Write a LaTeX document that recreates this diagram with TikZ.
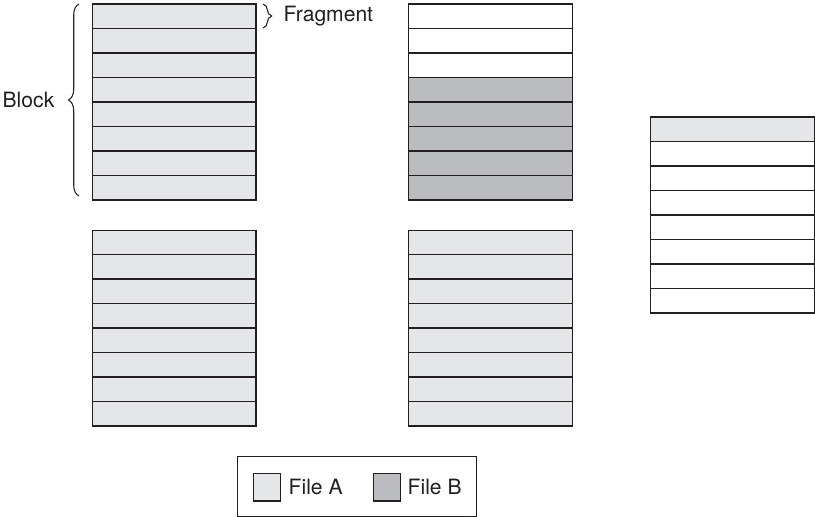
\documentclass[tikz,border=0pt]{standalone}
\usepackage{fontspec}
\setmainfont{TeX Gyre Heros}
\usetikzlibrary{decorations.pathreplacing}
\definecolor{fileA}{HTML}{E5E6E8}
\definecolor{fileB}{HTML}{BBBCBF}
\definecolor{ink}{HTML}{231F20}

\begin{document}
\begin{tikzpicture}[x=0.02cm,y=-0.02cm,line width=0.8pt,
    frag/.style={draw=ink,inner sep=0pt,anchor=north west,
      minimum width=3.28cm,minimum height=0.489cm},
    swatch/.style={draw=ink,line width=0.6pt,inner sep=0pt,minimum size=0.55cm,anchor=north west},
    lbl/.style={font=\fontsize{12}{14}\selectfont,text=ink,inner sep=0pt}]
  \useasboundingbox (0,0) rectangle (815,517);
  % blocks: x / y / name / row colours
  \foreach \bx/\by/\nm/\cols in {
      91.5/3.5/tl/{fileA,fileA,fileA,fileA,fileA,fileA,fileA,fileA},
      408/3.5/tm/{white,white,white,fileB,fileB,fileB,fileB,fileB},
      91.5/229.5/bl/{fileA,fileA,fileA,fileA,fileA,fileA,fileA,fileA},
      408/229.5/bm/{fileA,fileA,fileA,fileA,fileA,fileA,fileA,fileA},
      650/116.5/rt/{fileA,white,white,white,white,white,white,white}}
  {
    \foreach \c [count=\i from 0] in \cols
      \node[frag,fill=\c] (\nm-\i) at (\bx,\by+24.45*\i) {};
  }
  % block brace
  \coordinate (blockbot) at (79,196);
  \coordinate (blocktop) at (79,4);
  \draw[ink,line width=0.6pt,decorate,decoration={brace,amplitude=6pt}]
    (blockbot) -- (blocktop);
  \node[lbl,anchor=east] (blocklbl) at (55,100) {Block};
  % fragment brace
  \coordinate (fragtop) at (263,4);
  \coordinate (fragbot) at (263,28);
  \draw[ink,line width=0.6pt,decorate,decoration={brace,amplitude=5pt}]
    (fragtop) -- (fragbot);
  \node[lbl,anchor=west] (fraglbl) at (283,16) {Fragment};
  % legend
  \node[draw=ink,line width=0.6pt,inner sep=0pt,anchor=north west,
    minimum width=4.78cm,minimum height=1.2cm] (legend) at (237,456) {};
  \node[swatch,fill=fileA] (swA) at (252.5,473) {};
  \node[lbl,anchor=west] (txtA) at (288,486.5) {File A};
  \node[swatch,fill=fileB] (swB) at (372.5,473) {};
  \node[lbl,anchor=west] (txtB) at (407,486.5) {File B};
\end{tikzpicture}
\end{document}
